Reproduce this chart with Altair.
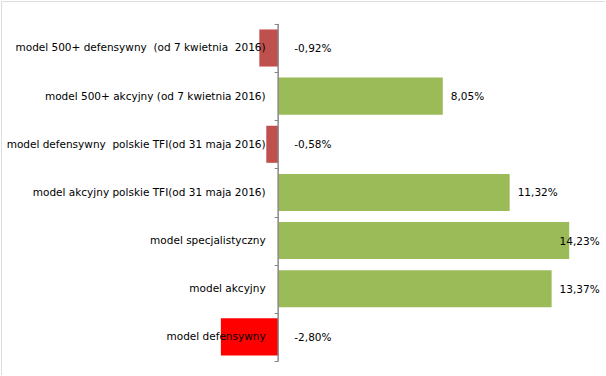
import altair as alt
import pandas as pd

NB = "\u00a0"
categories = [
    "model 500+ defensywny" + NB + " (od 7 kwietnia" + NB + " 2016)",
    "model 500+ akcyjny  (od 7 kwietnia 2016)",
    "model defensywny" + NB + " polskie TFI(od 31 maja 2016)",
    "model akcyjny polskie TFI(od 31 maja 2016)",
    "model specjalistyczny",
    "model akcyjny",
    "model defensywny",
]
values = [-0.92, 8.05, -0.58, 11.32, 14.23, 13.37, -2.80]
labels = ["-0,92%", "8,05%", "-0,58%", "11,32%", "14,23%", "13,37%", "-2,80%"]
colors = ["#C0504D", "#9BBB59", "#C0504D", "#9BBB59", "#9BBB59", "#9BBB59", "#FF0000"]

df = pd.DataFrame({"cat": categories, "value": values, "label": labels, "color": colors})

FONT = "DejaVu Sans"
FS = 10.5
W, H = 604, 374
XMIN, XMAX = -13.55, 15.98
zero_px = (0 - XMIN) / (XMAX - XMIN) * W

xscale = alt.Scale(domain=[XMIN, XMAX], nice=False, zero=False)
yscale = alt.Scale(domain=categories, paddingInner=0, paddingOuter=0.384, align=0.62)

base = alt.Chart(df)

bars = base.mark_bar(height=alt.RelativeBandSize(0.77)).encode(
    x=alt.X("value:Q", scale=xscale, axis=None),
    x2=alt.datum(0),
    y=alt.Y(
        "cat:N",
        scale=yscale,
        sort=categories,
        title=None,
        axis=alt.Axis(
            orient="left",
            offset=-zero_px,
            domain=False,
            ticks=True,
            tickBand="extent",
            tickColor="#868686",
            tickSize=4,
            tickWidth=1,
            labelPadding=9,
            labelLimit=400,
            labelFont=FONT,
            labelFontSize=FS,
            labelColor="#000000",
            grid=False,
            zindex=1,
        ),
    ),
    color=alt.Color("color:N", scale=None),
)

axisline = base.mark_bar(stroke="#868686", strokeWidth=1, fill=None).encode(
    x=alt.datum(0),
    x2=alt.datum(0),
    y=alt.Y("cat:N", scale=yscale, sort=categories),
)

text = base.transform_calculate(
    lx="datum.value < 0 ? 0.4 : min(datum.value, 13.37)",
).mark_text(align="left", baseline="middle", font=FONT, fontSize=FS, color="#000000", dx=8, dy=1).encode(
    x=alt.X("lx:Q", scale=xscale),
    y=alt.Y("cat:N", scale=yscale, sort=categories),
    text="label:N",
)

chart = (
    alt.layer(bars, axisline, text)
    .properties(
        width=W,
        height=H,
        autosize=alt.AutoSizeParams(type="none"),
        padding={"left": 1, "top": 1, "right": 0, "bottom": 0},
    )
    .configure_view(stroke="#BFBFBF", strokeWidth=1)
    .configure(background="white")
)

chart.save("out.html", embed_options={"renderer": "svg", "actions": False})
